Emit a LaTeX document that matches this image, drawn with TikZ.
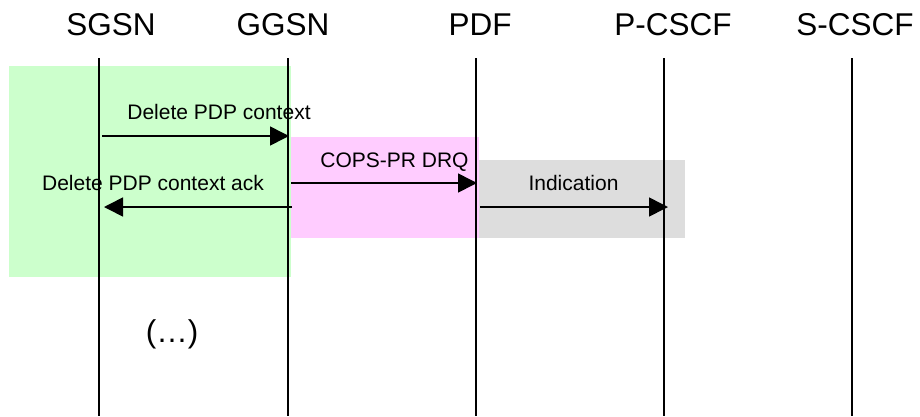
\documentclass[tikz,border=0pt]{standalone}
\usepackage{fontspec}
\setmainfont{Liberation Sans}
\usetikzlibrary{arrows.meta}
\definecolor{boxgreen}{HTML}{CCFFCC}
\definecolor{boxpink}{HTML}{FFCCFF}
\definecolor{boxgray}{HTML}{DDDDDD}
\begin{document}
\begin{tikzpicture}[x=1bp,y=-1bp,
  head/.style={font=\fontsize{31.5bp}{36bp}\selectfont, anchor=base, inner sep=0},
  lbl/.style={font=\fontsize{21bp}{24bp}\selectfont, anchor=base, inner sep=0},
  life/.style={line width=1.6bp},
  msg/.style={line width=1.6bp, -{Triangle[length=19bp,width=19bp]}},
]
\useasboundingbox (0,0) rectangle (920,416);
% shaded areas
\fill[boxgreen] (9,66) rectangle (291,277);
\fill[boxpink] (291,137) rectangle (479,238);
\fill[boxgray] (479,160) rectangle (685,238);
% headers
\node[head] (hsgsn) at (111,35) {SGSN};
\node[head] (hggsn) at (283,35) {GGSN};
\node[head] (hpdf) at (480,35) {PDF};
\node[head] (hpcscf) at (673,35) {P-CSCF};
\node[head] (hscscf) at (855,35) {S-CSCF};
% lifelines
\coordinate (sgsnT) at (99,58);  \coordinate (sgsnB) at (99,416);
\coordinate (ggsnT) at (288,58); \coordinate (ggsnB) at (288,416);
\coordinate (pdfT) at (476,58);  \coordinate (pdfB) at (476,416);
\coordinate (pcscfT) at (664,58); \coordinate (pcscfB) at (664,416);
\coordinate (scscfT) at (852,58); \coordinate (scscfB) at (852,416);
\draw[life] (sgsnT) -- (sgsnB);
\draw[life] (ggsnT) -- (ggsnB);
\draw[life] (pdfT) -- (pdfB);
\draw[life] (pcscfT) -- (pcscfB);
\draw[life] (scscfT) -- (scscfB);
% messages
\coordinate (m1s) at (102,136); \coordinate (m1e) at (289,136);
\draw[msg] (m1s) -- (m1e);
\node[lbl] (l1) at (219,119.5) {Delete PDP context};
\coordinate (m2s) at (291,183); \coordinate (m2e) at (477,183);
\draw[msg] (m2s) -- (m2e);
\node[lbl] (l2) at (394.5,167) {COPS-PR DRQ};
\coordinate (m3s) at (480,207); \coordinate (m3e) at (668,207);
\draw[msg] (m3s) -- (m3e);
\node[lbl] (l3) at (573.5,190) {Indication};
\coordinate (m4s) at (292,207); \coordinate (m4e) at (104,207);
\draw[msg] (m4s) -- (m4e);
\node[lbl] (l4) at (153,190) {Delete PDP context ack};
% ellipsis
\node[head] (dots) at (172,342) {(…)};
\end{tikzpicture}
\end{document}
